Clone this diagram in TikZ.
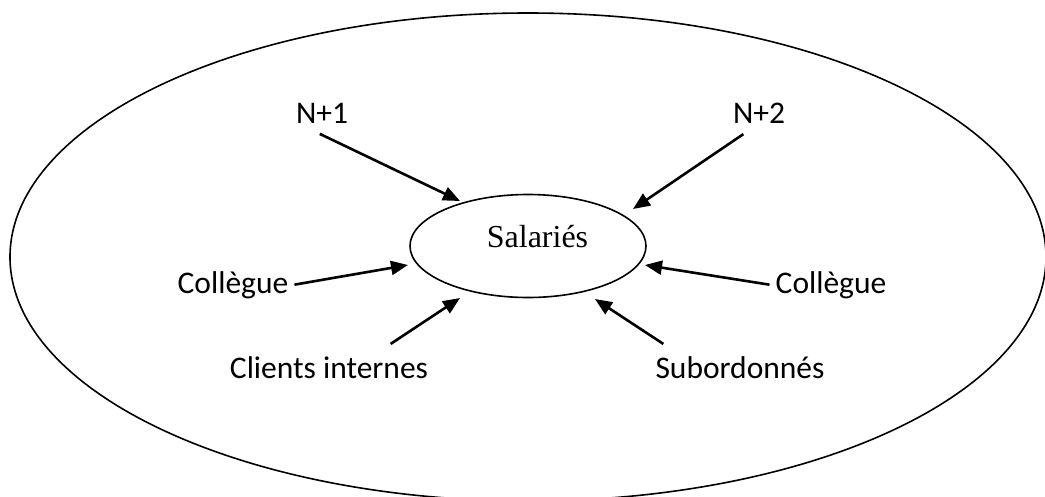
\documentclass[tikz,border=0pt]{standalone}
\usepackage{fontspec}
\setmainfont{Carlito}
\newfontfamily\salfont{Liberation Serif}
\usepackage{tikz}
\usetikzlibrary{arrows.meta,shapes.geometric}

\begin{document}
\begin{tikzpicture}[x=1pt, y=-1pt, >={Triangle[length=17pt,width=14pt]},
		lbl/.style={anchor=base, inner sep=4pt, font=\fontsize{31.5pt}{36pt}\selectfont},
		pfeil/.style={->, line width=2.6pt, shorten <=2pt}]
			\useasboundingbox (0,0) rectangle (1045,496);
			\draw[line width=1.6pt] (528,257) ellipse [x radius=518pt, y radius=244pt];
			\node[draw, ellipse, line width=1.6pt, minimum width=236pt, minimum height=103pt, inner sep=0pt,
				text height=22pt, text depth=20pt, font=\salfont\fontsize{32pt}{36pt}\selectfont] (sal) at (528,246) {\hspace*{19pt}Salariés};

			\node[lbl] (n1) at (322,123) {N+1};
			\node[lbl] (n2) at (759,123) {N+2};
			\node[lbl] (coll) at (233,293) {Collègue};
			\node[lbl] (colr) at (831,293) {Collègue};
			\node[lbl] (cli) at (329,378) {Clients internes};
			\node[lbl] (sub) at (740,378) {Subordonnés};

			\coordinate (t1) at (460,201);
			\coordinate (t2) at (633,209);
			\coordinate (t3) at (408,265);
			\coordinate (t4) at (645,265);
			\coordinate (t5) at (460,298);
			\coordinate (t6) at (595,299);

			\draw[pfeil] ([xshift=-4pt]n1.north |- 0,133) -- (t1);
			\draw[pfeil] ([xshift=-14pt]n2.north |- 0,133) -- (t2);
			\draw[pfeil] (coll.east |- 0,285) -- (t3);
			\draw[pfeil] (colr.west |- 0,285) -- (t4);
			\draw[pfeil] ([xshift=60pt]cli.north |- 0,345) -- (t5);
			\draw[pfeil] ([xshift=-75pt]sub.north |- 0,345) -- (t6);
		\end{tikzpicture}
\end{document}
